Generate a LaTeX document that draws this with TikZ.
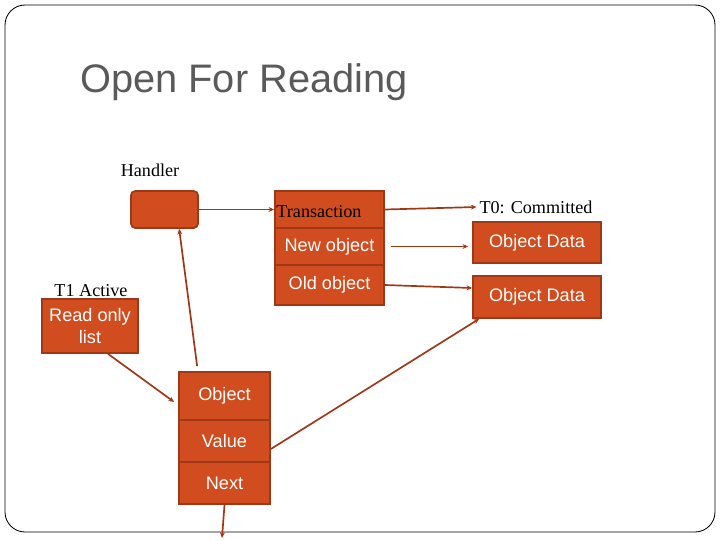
\documentclass[tikz,border=0pt]{standalone}
\usepackage{fontspec}
\setmainfont{Liberation Serif}
\setsansfont{Liberation Sans}
\usetikzlibrary{arrows.meta}
\definecolor{boxfill}{RGB}{209,76,30}
\definecolor{boxline}{RGB}{158,56,22}
\definecolor{titlegray}{RGB}{90,90,90}
\begin{document}
\begin{tikzpicture}[x=0.025cm, y=-0.025cm,
    cell/.style={rectangle, draw=boxline, line width=1.2pt, fill=boxfill, text=white, inner sep=0pt, align=center, font=\sffamily\fontsize{12.9}{15}\selectfont},
    label/.style={inner sep=2pt, font=\fontsize{12.9}{15}\selectfont},
    link/.style={-{Stealth[length=4pt,width=3.5pt]}, draw=boxline, line width=1.2pt}
]
\useasboundingbox (0,0) rectangle (720,540);
\draw[line width=0.6pt, rounded corners=0.5cm] (5,5) rectangle (715,532);
\node[anchor=west, inner sep=0pt, text=titlegray, font=\sffamily\fontsize{28.3}{32}\selectfont] (title) at (80,82) {Open For Reading};

\node[label] (hlab) at (150,170) {Handler};
\node[label] (t0) at (536,207) {T0: Committed};
\node[label] (t1) at (91,291) {T1 Active};

\node[cell, rounded corners=3pt, minimum width=1.675cm, minimum height=0.925cm] (handler) at (164.5,209.5) {};
\node[cell, minimum width=2.725cm, minimum height=0.925cm, text=black, font=\fontsize{12.9}{15}\selectfont, text width=2.65cm, align=left, text height=14pt, text depth=3pt] (trans) at (329.5,209.5) {Transaction};
\node[cell, minimum width=2.725cm, minimum height=0.925cm] (newobj) at (329.5,246.5) {New object};
\node[cell, minimum width=2.725cm, minimum height=1.0cm] (oldobj) at (329.5,285) {Old object};
\node[cell, minimum width=3.2cm, minimum height=1.025cm] (od1) at (537,242.5) {Object Data};
\node[cell, minimum width=3.2cm, minimum height=1.05cm] (od2) at (537,297) {Object Data};
\node[cell, minimum width=2.4cm, minimum height=1.35cm] (rol) at (90,326) {Read only\\list};
\node[cell, minimum width=2.275cm, minimum height=1.2cm] (objct) at (224.5,396) {Object};
\node[cell, minimum width=2.275cm, minimum height=1.05cm] (value) at (224.5,441) {Value};
\node[cell, minimum width=2.275cm, minimum height=1.05cm] (next) at (224.5,483) {Next};
\coordinate (nextend) at (222,538);

\draw[link] (handler.east) -- (trans.west);
\draw[link] (trans.east) -- (t0.west);
\draw[link, shorten <=0.15cm, shorten >=0.1cm] (newobj.east) -- (newobj.east -| od1.west);
\draw[link] (oldobj.east) -- ([yshift=0.225cm]od2.west);
\draw[link] ([xshift=0.475cm,yshift=0.125cm]objct.north west) -- ([xshift=1.225cm]handler.south west);
\draw[link] ([xshift=0.45cm]rol.south) -- ([xshift=-0.1cm,yshift=-0.15cm]objct.west);
\draw[link] ([yshift=-0.2cm]value.east) -- ([xshift=0.175cm]od2.south west);
\draw[link] (next.south) -- (nextend);
\end{tikzpicture}
\end{document}
